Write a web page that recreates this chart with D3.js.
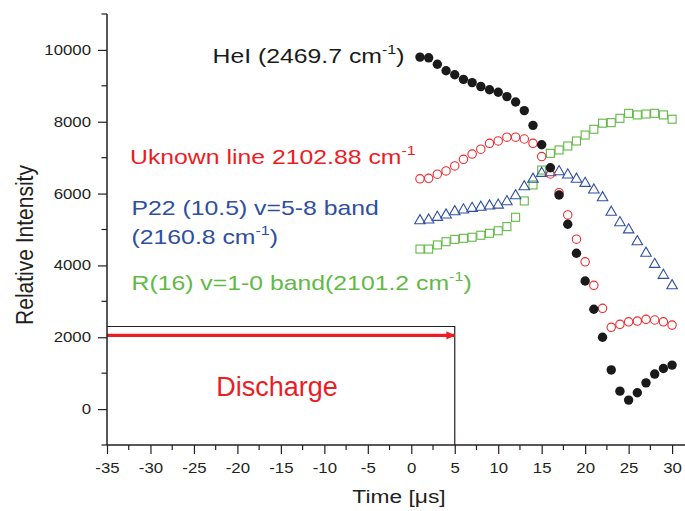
<!DOCTYPE html>
<html>
<head>
<meta charset="utf-8">
<script src="https://cdn.jsdelivr.net/npm/d3@7"></script>
<style>
  html, body { margin: 0; padding: 0; background: #fff; }
  svg { display: block; font-family: "Liberation Sans", Arial, sans-serif; }
</style>
</head>
<body>
<svg id="chart" width="685" height="511"></svg>
<script>
// Time axis, µs
const times = d3.range(1, 31);

// Relative intensity of each line versus time
const heI = [9800, 9780, 9600, 9420, 9310, 9180, 9090, 8980, 8890, 8820,
             8700, 8550, 8310, 7900, 7360, 6720, 5960, 5145, 4340, 3565,
             2780, 2000, 1090, 500, 250, 455, 730, 975, 1130, 1225];
const unknownLine = [6410, 6425, 6540, 6630, 6770, 6955, 7100, 7235, 7400, 7465,
                     7570, 7570, 7520, 7400, 7030, 6545, 6025, 5405, 4730, 4100,
                     3445, 2805, 2275, 2360, 2430, 2450, 2500, 2480, 2430, 2340];
const p22Band = [5245, 5265, 5340, 5405, 5495, 5545, 5590, 5620, 5655, 5680,
                 5775, 5940, 6190, 6400, 6565, 6580, 6610, 6520, 6400, 6285,
                 6100, 5885, 5480, 5190, 4990, 4660, 4340, 4030, 3725, 3435];
const r16Band = [4455, 4455, 4570, 4660, 4725, 4755, 4785, 4840, 4895, 4965,
                 5080, 5340, 5795, 6240, 6655, 7120, 7215, 7325, 7465, 7630,
                 7790, 7960, 7975, 8095, 8235, 8190, 8215, 8235, 8190, 8070];

// Discharge window
const dischargeStart = -35, dischargeEnd = 5;
const dischargeBoxTop = 2300, dischargeArrowLevel = 2050;

// Axis ticks
const xTicks = d3.range(-35, 31, 5);
const xMinorTicks = d3.range(-32.5, 31, 5);
const yTicks = [0, 2000, 4000, 6000, 8000, 10000];
const yMinorTicks = [-1000, 1000, 3000, 5000, 7000, 9000, 11000];

const svg = d3.select("#chart");
const x = d3.scaleLinear().domain([-35, 31.6]).range([107, 686]);
const y = d3.scaleLinear().domain([-1000, 11000]).range([445, 14]);

const ink = "#231f20";
const wide = 1.24;   // horizontal widening applied to the lettering

// Text placed at (px, py) and widened horizontally about its anchor
function wideText(px, py, str, opts) {
  const g = svg.append("g").attr("transform", `translate(${px},${py}) scale(${opts.sx || wide},1)`);
  return g.append("text").attr("x", 0).attr("y", 0)
    .attr("text-anchor", opts.anchor || "start")
    .attr("fill", opts.color || ink)
    .style("font-size", opts.size + "px")
    .text(str);
}

// Discharge box and arrow
svg.append("path")
  .attr("d", `M${x(dischargeStart)},${y(dischargeBoxTop)}H${x(dischargeEnd)}V${y(-1000)}`)
  .attr("fill", "none").attr("stroke", ink).attr("stroke-width", 1.2);

const defs = svg.append("defs");
defs.append("marker").attr("id", "arrowHead")
  .attr("viewBox", "0 0 10 10").attr("refX", 10).attr("refY", 5)
  .attr("markerWidth", 4.5).attr("markerHeight", 2.6).attr("orient", "auto")
  .attr("markerUnits", "strokeWidth")
  .append("path").attr("d", "M0,0L10,5L0,10Z").attr("fill", "#ed1c24");

svg.append("line")
  .attr("x1", x(dischargeStart)).attr("x2", x(dischargeEnd))
  .attr("y1", y(dischargeArrowLevel)).attr("y2", y(dischargeArrowLevel))
  .attr("stroke", "#ed1c24").attr("stroke-width", 3.2)
  .attr("marker-end", "url(#arrowHead)");

wideText(277, 396, "Discharge", { size: 27, anchor: "middle", color: "#ed1c24", sx: 1 });

// Axes (plain hyphen for negative tick labels)
const tickText = d => String(d);
const xAxis = svg.append("g").attr("transform", `translate(0,${y(-1000)})`)
  .call(d3.axisBottom(x).tickValues(xTicks).tickSize(9).tickFormat(tickText));
xAxis.append("g").selectAll("line").data(xMinorTicks).join("line")
  .attr("x1", d => x(d)).attr("x2", d => x(d)).attr("y1", 0).attr("y2", 5)
  .attr("stroke", ink).attr("stroke-width", 1.2);

const yAxis = svg.append("g").attr("transform", `translate(${x(-35)},0)`)
  .call(d3.axisLeft(y).tickValues(yTicks).tickSize(9).tickFormat(tickText));
yAxis.append("g").selectAll("line").data(yMinorTicks).join("line")
  .attr("x1", 0).attr("x2", -5.5).attr("y1", d => y(d)).attr("y2", d => y(d))
  .attr("stroke", ink).attr("stroke-width", 1.2);

[xAxis, yAxis].forEach(g => {
  g.select(".domain").attr("stroke", ink).attr("stroke-width", 1.5);
  g.selectAll(".tick line").attr("stroke", ink).attr("stroke-width", 1.2);
  g.selectAll(".tick text").attr("fill", ink).style("font-size", "14px")
    .style("font-family", "'Liberation Sans', Arial, sans-serif")
    .attr("transform", `scale(1.2,1)`);
});
xAxis.selectAll(".tick text").attr("y", 28).attr("dy", 0);
yAxis.selectAll(".tick text").attr("x", -16 / 1.2);
xAxis.select(".domain").attr("d", `M${x(-35)},0H686`);
yAxis.select(".domain").attr("d", `M0,${y(11000)}V${y(-1000)}`);

// Axis titles
wideText(399, 503, "Time [μs]", { size: 19, anchor: "middle", sx: 1.2 });
svg.append("g").attr("transform", "translate(33,245) scale(1.12,1) rotate(-90)")
  .append("text").attr("text-anchor", "middle").attr("fill", ink)
  .style("font-size", "21px").text("Relative Intensity");

// Series markers
const series = [
  { values: r16Band, color: "#62b946", shape: "square" },
  { values: p22Band, color: "#3150a2", shape: "triangle" },
  { values: unknownLine, color: "#ee2a2f", shape: "openCircle" },
  { values: heI, color: "#1a1a1a", shape: "dot" }
];

series.forEach(s => {
  const g = svg.append("g");
  const pts = times.map((t, i) => [x(t), y(s.values[i])]);
  if (s.shape === "square") {
    g.selectAll("rect").data(pts).join("rect")
      .attr("x", d => d[0] - 4).attr("y", d => d[1] - 4)
      .attr("width", 8).attr("height", 8)
      .attr("fill", "none").attr("stroke", s.color).attr("stroke-width", 1.1);
  } else if (s.shape === "triangle") {
    const tri = d3.symbol().type(d3.symbolTriangle).size(48);
    g.selectAll("path").data(pts).join("path")
      .attr("transform", d => `translate(${d[0]},${d[1]})`)
      .attr("d", tri())
      .attr("fill", "none").attr("stroke", s.color).attr("stroke-width", 1.1);
  } else if (s.shape === "openCircle") {
    g.selectAll("circle").data(pts).join("circle")
      .attr("cx", d => d[0]).attr("cy", d => d[1]).attr("r", 4.2)
      .attr("fill", "none").attr("stroke", s.color).attr("stroke-width", 1.1);
  } else {
    g.selectAll("circle").data(pts).join("circle")
      .attr("cx", d => d[0]).attr("cy", d => d[1]).attr("r", 4.7)
      .attr("fill", s.color);
  }
});

// Series labels with cm⁻¹ superscripts
function label(xPos, yPos, color, main, tail) {
  const t = wideText(xPos, yPos, "", { size: 20, color: color });
  t.append("tspan").text(main);
  if (tail !== undefined) {
    t.append("tspan").attr("dy", -9).style("font-size", "13px").text("-1");
    if (tail) t.append("tspan").attr("dy", 9).text(tail);
  }
}
label(212.5, 63, "#1a1a1a", "HeI (2469.7 cm", ")");
label(130, 164, "#ed1c24", "Uknown line 2102.88 cm", "");
label(131.5, 215, "#2e4fa0", "P22 (10.5) v=5-8 band");
label(131.5, 244, "#2e4fa0", "(2160.8 cm", ")");
label(131.5, 290, "#62b946", "R(16) v=1-0 band(2101.2 cm", ")");
</script>
</body>
</html>
